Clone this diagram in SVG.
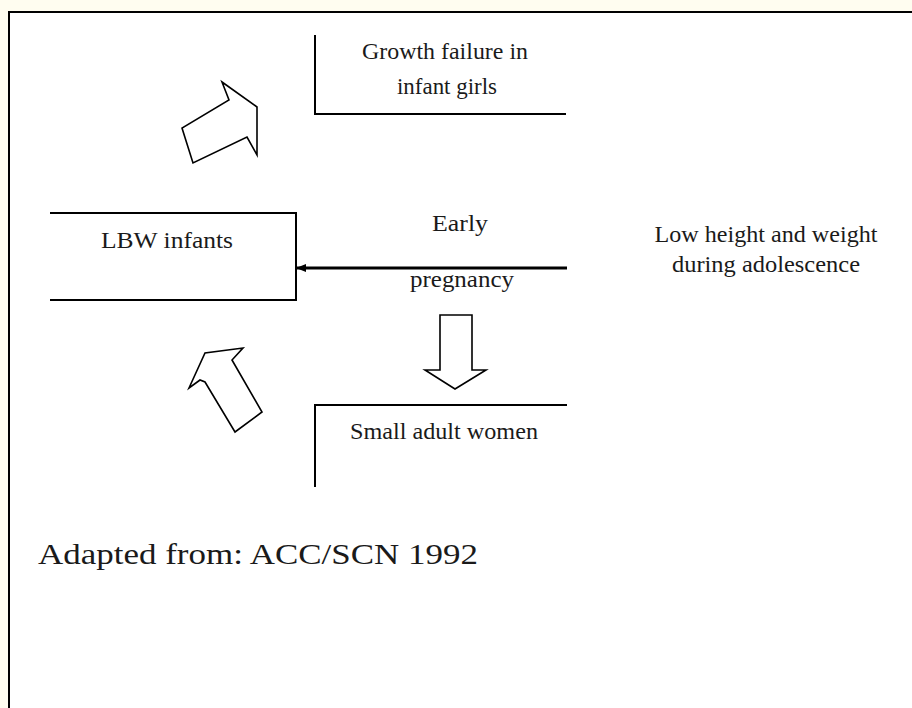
<svg xmlns="http://www.w3.org/2000/svg" width="912" height="708" viewBox="0 0 912 708">
<style>
.t{font-family:"Liberation Serif","Times New Roman",serif;font-size:23px;fill:#1a1a1a;text-anchor:middle}
.ln{stroke:#000;stroke-width:2;fill:none}
.blk{stroke:#000;stroke-width:1.6;fill:#fff;stroke-linejoin:miter}
</style>
<defs>
<marker id="ah" markerWidth="10" markerHeight="10" refX="9" refY="5" orient="auto" markerUnits="userSpaceOnUse">
<path d="M0,1 L10,5 L0,9 Z" fill="#000"/>
</marker>
</defs>
<rect x="0" y="0" width="912" height="708" fill="#fffdf0"/>
<rect x="10" y="13" width="902" height="695" fill="#fff"/>
<path class="ln" d="M9,708 V12 H912" stroke-width="2.5"/>

<g id="growth">
<path class="ln" d="M315,35 V114 H566"/>
<text class="t" x="445" y="59" textLength="166" lengthAdjust="spacingAndGlyphs">Growth failure in</text>
<text class="t" x="447" y="94" textLength="100" lengthAdjust="spacingAndGlyphs">infant girls</text>
</g>

<g id="lbw">
<path class="ln" d="M50,213 H296 V300 H50"/>
<text class="t" x="167" y="248" textLength="132" lengthAdjust="spacingAndGlyphs">LBW infants</text>
</g>

<g id="early">
<text class="t" x="460" y="231" textLength="56" lengthAdjust="spacingAndGlyphs">Early</text>
<text class="t" x="462" y="287" textLength="104" lengthAdjust="spacingAndGlyphs">pregnancy</text>
</g>

<g id="low">
<text class="t" x="766" y="242" textLength="223" lengthAdjust="spacingAndGlyphs">Low height and weight</text>
<text class="t" x="766" y="272" textLength="188" lengthAdjust="spacingAndGlyphs">during adolescence</text>
</g>

<g id="small">
<path class="ln" d="M315,487 V405 H567"/>
<text class="t" x="444" y="439" textLength="188" lengthAdjust="spacingAndGlyphs">Small adult women</text>
</g>

<g id="connectors">
<line x1="567" y1="268" x2="297" y2="268" stroke="#000" stroke-width="3" marker-end="url(#ah)"/>
<path class="blk" d="M222,82 L257,107 L257,155 L247,137 L193,163 L182,128 L229,100 Z"/>
<path class="blk" d="M189,388 L205,353 L243,348 L232,360 L262,412 L235,432 L205,382 L200,380 Z"/>
<path class="blk" d="M440,315 H472 V370 H486 L455,389 L425,370 H440 Z"/>
</g>

<text x="38" y="564" font-family="'Liberation Serif','Times New Roman',serif" font-size="30" fill="#1a1a1a" textLength="440" lengthAdjust="spacingAndGlyphs">Adapted from:  ACC/SCN 1992</text>
</svg>
